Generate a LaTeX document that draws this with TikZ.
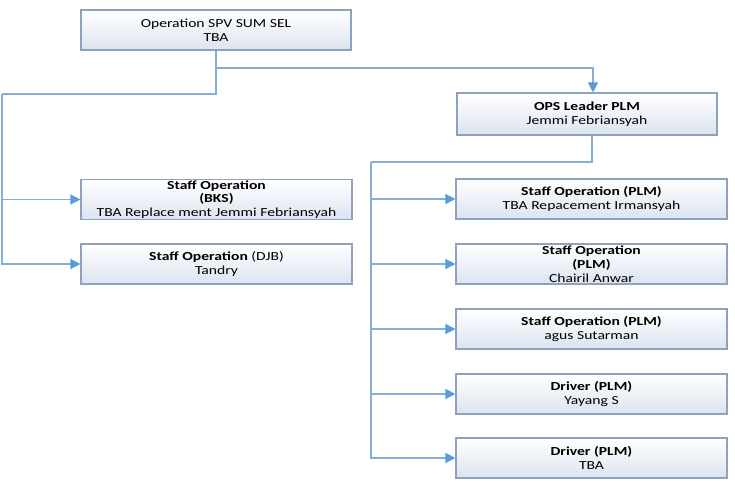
\documentclass[tikz,border=0pt]{standalone}
\usepackage{fontspec}
\setmainfont{Carlito}[FakeStretch=1.27]
\usetikzlibrary{arrows.meta}
\definecolor{boxline}{HTML}{8EA2C0}
\definecolor{boxfill}{HTML}{DCE3F0}
\definecolor{linkline}{HTML}{86ADD6}
\definecolor{tipblue}{HTML}{5B9BD5}
\tikzset{
  box/.style={draw=boxline, line width=1.1pt, top color=white, bottom color=boxfill,
    minimum width=271pt, minimum height=40pt, inner sep=0pt, align=center,
    font=\fontsize{12.3}{13.8}\selectfont},
  link/.style={draw=linkline, line width=1.3pt},
  arrowlink/.style={link, -{Triangle[length=10pt,width=10pt,color=tipblue]}},
}
\begin{document}
\begin{tikzpicture}[x=1pt, y=-1pt]
  \useasboundingbox (0,0) rectangle (735,480);

  % top of the chart
  \node[box, minimum width=270pt] (spv) at (216,30) {Operation SPV SUM SEL\\TBA};
  \node[box, minimum width=260pt, minimum height=42pt] (lead) at (587,114)
    {\textbf{OPS Leader PLM}\\Jemmi Febriansyah};

  % left branch
  \node[box] (bks) at (216.5,199.5)
    {\textbf{Staff Operation}\\\textbf{(BKS)}\\TBA Replace ment Jemmi Febriansyah};
  \node[box] (djb) at (216.5,264) {\textbf{Staff Operation} (DJB)\\Tandry};

  % right branch
  \node[box] (plm1) at (591.5,199) {\textbf{Staff Operation (PLM)}\\TBA Repacement Irmansyah};
  \node[box] (plm2) at (591.5,264) {\textbf{Staff Operation}\\\textbf{(PLM)}\\Chairil Anwar};
  \node[box] (plm3) at (591.5,329) {\textbf{Staff Operation (PLM)}\\agus Sutarman};
  \node[box] (drv1) at (591.5,394) {\textbf{Driver (PLM)}\\Yayang S};
  \node[box] (drv2) at (591.5,458) {\textbf{Driver (PLM)}\\TBA};

  \coordinate (ht) at (216,68);
  \coordinate (lt) at (2,94);
  \coordinate (rt) at (371,162);

  \draw[link] (spv.south) |- (lt);
  \draw[arrowlink] (ht) -| ([xshift=6pt]lead.north);
  \draw[arrowlink] (lt) |- (bks.west);
  \draw[arrowlink] (lt) |- (djb.west);
  \draw[link] ([xshift=5pt]lead.south) |- (rt);
  \foreach \n in {plm1,plm2,plm3,drv1,drv2}
    \draw[arrowlink] (rt) |- (\n.west);
\end{tikzpicture}
\end{document}
